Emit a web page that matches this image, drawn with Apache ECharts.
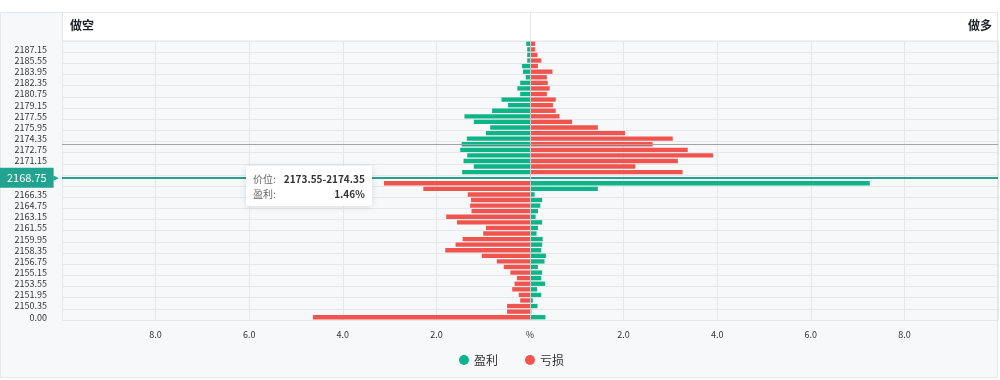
<!DOCTYPE html>
<html>
<head>
<meta charset="utf-8">
<script src="https://cdn.jsdelivr.net/npm/echarts@6/dist/echarts.min.js"></script>
<style>
html,body{margin:0;padding:0;background:#fff;}
#c{width:1000px;height:380px;}
</style>
</head>
<body>
<div id="c"></div>
<script>
// Price levels (category axis, bottom -> top)
const categories = ['0.00','2149.55','2150.35','2151.15','2151.95','2152.75','2153.55','2154.35','2155.15','2155.95',
  '2156.75','2157.55','2158.35','2159.15','2159.95','2160.75','2161.55','2162.35','2163.15','2163.95',
  '2164.75','2165.55','2166.35','2167.15','2167.95','2168.75','2169.55','2170.35','2171.15','2171.95',
  '2172.75','2173.55','2174.35','2175.15','2175.95','2176.75','2177.55','2178.35','2179.15','2179.95',
  '2180.75','2181.55','2182.35','2183.15','2183.95','2184.75','2185.55','2186.35','2187.15','2187.95'];
// 做空 side (left) percentages, bottom -> top
const shortPct = [4.64,0.49,0.49,0.21,0.24,0.38,0.33,0.28,0.42,0.56,
  0.71,1.03,1.81,1.59,1.44,1.00,0.94,1.56,1.79,1.25,
  1.28,1.26,1.33,2.28,3.12,null,1.45,1.20,1.42,1.34,
  1.49,1.46,1.35,0.94,0.85,1.20,1.40,0.81,0.47,0.61,
  0.21,0.27,0.21,0.09,0.15,0.17,0.06,0.06,0.06,0.08];
// 做多 side (right) percentages, bottom -> top
const longPct = [0.33,0.03,0.16,0.06,0.24,0.15,0.32,0.24,0.26,0.17,
  0.31,0.34,0.24,0.26,0.27,0.14,0.17,0.26,0.12,0.17,
  0.22,0.26,0.10,1.45,7.26,null,3.26,2.25,3.16,3.91,
  3.37,2.62,3.05,2.03,1.45,0.90,0.63,0.55,0.49,0.55,
  0.36,0.42,0.38,0.36,0.48,0.17,0.24,0.16,0.11,0.11];
const xTickLabels = ['', '8.0', '6.0', '4.0', '2.0', '%', '2.0', '4.0', '6.0', '8.0', ''];
const currentPrice = '2168.75';
const hoverPrice = '2173.55';

const FONT = '"Noto Sans CJK SC","Noto Sans",sans-serif';
const GREEN = '#0db487';
const RED = '#f0544f';
const TEAL = '#21a38f';
const LINE = '#e5e7eb';
const G = {left: 62, right: 2, top: 41, bottom: 60};
const W = 1000, H = 380;
const midX = G.left + (W - G.left - G.right) / 2;

const cur = categories.indexOf(currentPrice);
const profit = categories.map((c, i) => i > cur ? -shortPct[i] : (i < cur ? longPct[i] : null));
const loss = categories.map((c, i) => i > cur ? longPct[i] : (i < cur ? -shortPct[i] : null));

const chart = echarts.init(document.getElementById('c'));
chart.setOption({
  animation: false,
  backgroundColor: '#f7f8fa',
  textStyle: {fontFamily: FONT},
  graphic: [
    {type: 'rect', silent: true, shape: {x: 0, y: 0, width: W, height: 12}, style: {fill: '#fff'}},
    {type: 'rect', silent: true, shape: {x: 0, y: H - 2, width: W, height: 2}, style: {fill: '#fff'}},
    {type: 'rect', silent: true, shape: {x: W - G.right, y: 0, width: G.right, height: H}, style: {fill: '#fff'}},
    {type: 'rect', silent: true, shape: {x: 0.5, y: 12.5, width: W - G.right - 1, height: H - 15}, style: {fill: 'none', stroke: LINE, lineWidth: 1}},
    {type: 'rect', silent: true, shape: {x: G.left + 0.5, y: 12.5, width: W - G.left - G.right - 1, height: G.top - 12.5}, style: {fill: '#fff', stroke: LINE, lineWidth: 1}},
    {type: 'line', silent: true, shape: {x1: midX + 0.5, y1: 12.5, x2: midX + 0.5, y2: G.top}, style: {stroke: LINE, lineWidth: 1}},
    {type: 'text', silent: true, left: G.left + 8, top: 19, style: {text: '做空', font: 'bold 12px ' + FONT, fill: '#1f2329'}},
    {type: 'text', silent: true, right: 8, top: 19, style: {text: '做多', font: 'bold 12px ' + FONT, fill: '#1f2329'}}
  ],
  grid: {left: G.left, right: G.right, top: G.top, bottom: G.bottom},
  legend: {
    data: ['盈利', '亏损'], top: 349, left: 454, icon: 'circle',
    itemWidth: 10, itemHeight: 10, itemGap: 27,
    textStyle: {fontSize: 12, color: '#333', fontFamily: FONT}
  },
  tooltip: {
    trigger: 'axis',
    alwaysShowContent: true,
    transitionDuration: 0,
    position: p => [p[0] + 20, p[1] + 22],
    axisPointer: {type: 'line', lineStyle: {color: '#a3a3a3', width: 1, type: 'solid'}},
    backgroundColor: '#fff',
    borderWidth: 0,
    padding: [5, 7],
    extraCssText: 'box-shadow:0 1px 6px rgba(0,0,0,0.12);border-radius:2px;',
    textStyle: {fontSize: 10, color: '#333', fontFamily: FONT},
    formatter: function (params) {
      const idx = params[0].dataIndex;
      const side = params.find(p => p.value != null && p.value < 0) || params[0];
      const row = (k, v) => '<div style="display:flex;justify-content:space-between;line-height:15px;font-size:10px;">' +
        '<span style="color:#666;">' + k + '</span><span style="font-weight:bold;color:#333;margin-left:8px;">' + v + '</span></div>';
      return row('价位:', categories[idx] + '-' + categories[idx + 1]) +
        row(side.seriesName + ':', Math.abs(side.value).toFixed(2) + '%');
    }
  },
  xAxis: {
    type: 'value', min: -10, max: 10, interval: 2,
    axisLine: {show: false}, axisTick: {show: false},
    splitLine: {lineStyle: {color: LINE, width: 1}},
    axisLabel: {
      fontSize: 9, color: '#333', margin: 10,
      showMinLabel: false, showMaxLabel: false,
      formatter: v => xTickLabels[Math.round((v + 10) / 2)]
    }
  },
  yAxis: {
    type: 'category', data: categories,
    axisLine: {lineStyle: {color: '#dfe2e6'}},
    axisTick: {show: false},
    axisLabel: {interval: 1, fontSize: 9, color: '#333', margin: 15},
    splitLine: {show: true, interval: 1, lineStyle: {color: LINE, width: 1}}
  },
  series: [
    {
      name: '盈利', type: 'bar', data: profit, barGap: '-100%', barCategoryGap: '22%',
      itemStyle: {color: GREEN}, emphasis: {disabled: true},
      markLine: {
        silent: true, symbol: ['none', 'none'],
        data: [{
          yAxis: currentPrice,
          lineStyle: {color: TEAL, width: 2, type: 'solid'},
          label: {
            show: true, position: 'start', distance: 3,
            formatter: () => '{a|' + currentPrice + '}{t|▶}',
            rich: {
              a: {backgroundColor: TEAL, color: '#fff', fontSize: 11, padding: [5, 7, 4, 7], fontFamily: FONT},
              t: {color: TEAL, fontSize: 7, fontFamily: 'DejaVu Sans'}
            }
          }
        }]
      }
    },
    {
      name: '亏损', type: 'bar', data: loss, barGap: '-100%', barCategoryGap: '22%',
      itemStyle: {color: RED}, emphasis: {disabled: true},
      markLine: {
        silent: true, symbol: ['none', 'none'], label: {show: false},
        lineStyle: {color: '#c9ccd1', width: 1, type: 'solid'},
        data: [{xAxis: 0}]
      }
    }
  ]
});

const hoverIdx = categories.indexOf(hoverPrice);
const pt = chart.convertToPixel({seriesIndex: 0}, [-6.5, hoverIdx]);
chart.dispatchAction({type: 'showTip', x: pt[0], y: pt[1]});
</script>
</body>
</html>
